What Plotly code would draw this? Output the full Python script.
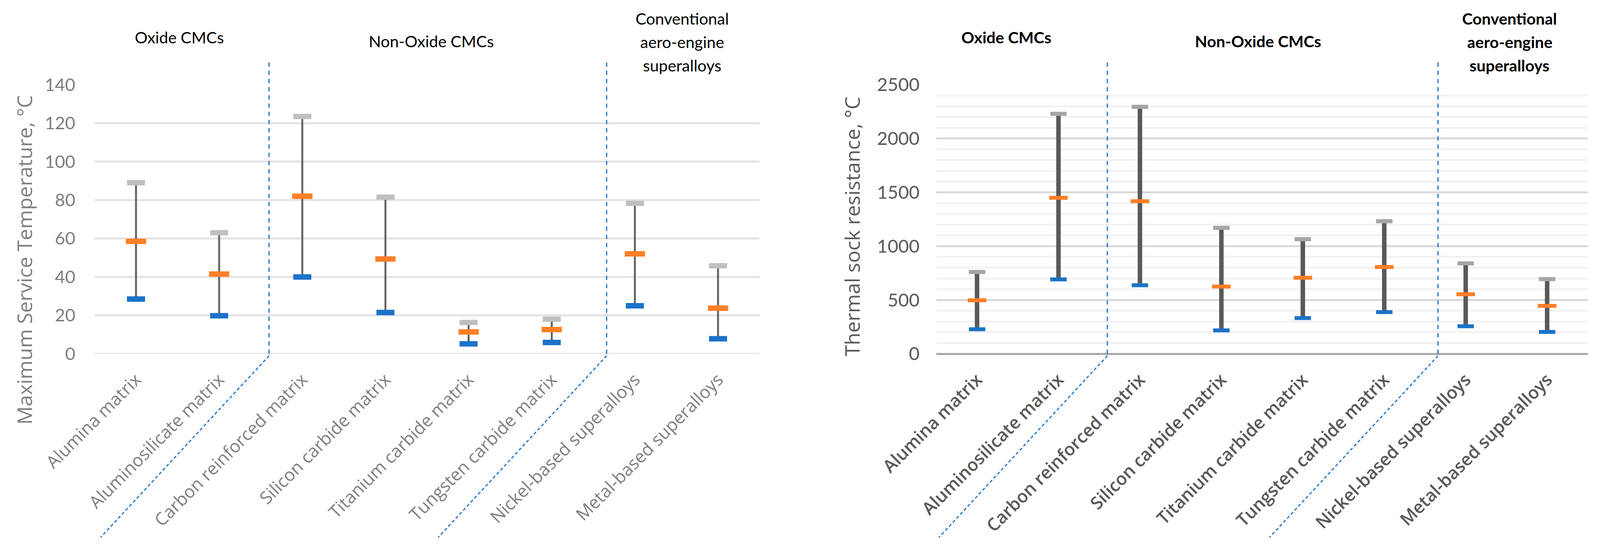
import plotly.graph_objects as go

# ---------------- data ----------------
categories = ["Alumina matrix", "Aluminosilicate matrix", "Carbon reinforced matrix",
              "Silicon carbide matrix", "Titanium carbide matrix", "Tungsten carbide matrix",
              "Nickel-based superalloys", "Metal-based superalloys"]

temp_high = [89, 63, 123.5, 81.5, 16.3, 18, 78.3, 45.8]
temp_mean = [58.5, 41.5, 82, 49.3, 11.4, 12.6, 52, 23.7]
temp_low = [28.5, 19.8, 40, 21.5, 5.2, 5.9, 25, 7.8]

shock_high = [760, 2230, 2295, 1170, 1065, 1232, 840, 694]
shock_mean = [497, 1450, 1418, 625, 707, 806, 553, 445]
shock_low = [228, 691, 637, 218, 332, 387, 256, 203]

temp_ticks = [0, 20, 40, 60, 80, 100, 120, 140]
shock_ticks = [0, 500, 1000, 1500, 2000, 2500]

group_names = ["Oxide CMCs", "Non-Oxide CMCs"]
conv_lines = ["Conventional", "aero-engine", "superalloys"]

temp_title = "Maximum Service Temperature, \u00b0C"
shock_title = "Thermal sock resistance, \u00b0C"

# ---------------- layout geometry ----------------
# the visible page is 4096 px wide with an 8 px body margin
FW, FH = 4088, 1403
SX = 4096 / 4219


def fx(px):
    return px * SX - 8


def fy(py):
    return py - 8


PLOT_TOP, PLOT_BOT = fy(217), fy(906)
ydom = [(FH - PLOT_BOT) / FH, (FH - PLOT_TOP) / FH]
xdom1 = [fx(249) / FW, fx(2003) / FW]
xdom2 = [fx(2469) / FW, fx(4187) / FW]
idx = list(range(len(categories)))

BLUE_DASH = "#1c72c6"
fig = go.Figure()


def add_stock(xaxis, yaxis, high, mean, low, stem_w, stem_c, gray, caps):
    xs, ys = [], []
    for i, (lo, hi) in enumerate(zip(low, high)):
        xs += [i, i, None]
        ys += [lo, hi, None]
    fig.add_trace(go.Scatter(x=xs, y=ys, mode="lines", xaxis=xaxis, yaxis=yaxis,
                             line=dict(color=stem_c, width=stem_w),
                             hoverinfo="skip", showlegend=False))
    for vals, col, (sz, th) in [(high, gray, caps[0]), (low, "#1b72c8", caps[2]),
                                (mean, "#ff7f27", caps[1])]:
        fig.add_trace(go.Scatter(x=idx, y=vals, mode="markers", xaxis=xaxis, yaxis=yaxis,
                                 marker=dict(symbol="line-ew", size=sz,
                                             line=dict(color=col, width=th)),
                                 showlegend=False))


add_stock("x", "y", temp_high, temp_mean, temp_low, 5, "#646464", "#bfbfbf",
          [(33, 13.5), (37, 14), (33, 14)])
add_stock("x2", "y2", shock_high, shock_mean, shock_low, 11.5, "#595959", "#a5a5a5",
          [(30, 10.5), (34, 10), (30, 10)])

# left gridlines (no line at the top tick)
for v in temp_ticks[:-1]:
    fig.add_shape(type="line", xref="x domain", yref="y", x0=0, x1=1, y0=v, y1=v,
                  line=dict(color="#e3e3e3", width=5), layer="below")

# dashed separators between the material groups
seps = [1.6, 5.66]
for xr in ["x", "x2"]:
    for s in seps:
        fig.add_shape(type="line", xref=xr, x0=s, x1=s, yref="paper",
                      ysizemode="pixel", yanchor=ydom[0], y0=0, y1=755,
                      line=dict(color=BLUE_DASH, width=3, dash="11px,10px"))
        fig.add_shape(type="line", xref=xr, xsizemode="pixel", xanchor=s, x0=0, x1=-431,
                      yref="paper", ysizemode="pixel", yanchor=ydom[0], y0=-5, y1=-470,
                      line=dict(color=BLUE_DASH, width=3, dash="8px,6px"))

cat_font_l = dict(family="Open Sans", size=45, color="#7f7f7f")
cat_font_r = dict(family="Open Sans", size=45, color="#595959", weight=600)

common_x = dict(type="linear", range=[-0.5, 7.5], tickmode="array", tickvals=idx,
                ticktext=categories, tickangle=-45, showgrid=False, zeroline=False,
                showline=False, ticks="", ticklabelstandoff=30, automargin=False)

fig.update_layout(
    width=FW, height=FH, margin=dict(l=0, r=0, t=0, b=0),
    paper_bgcolor="white", plot_bgcolor="white", showlegend=False,
    xaxis=dict(domain=xdom1, anchor="y", tickfont=cat_font_l, **common_x),
    xaxis2=dict(domain=xdom2, anchor="y2", tickfont=cat_font_r, **common_x),
    yaxis=dict(domain=ydom, anchor="x", range=[0, 140], tickmode="array",
               tickvals=temp_ticks, showgrid=False, zeroline=False, showline=False,
               tickfont=dict(family="Lato", size=45, color="#7f7f7f"),
               ticks="", ticklabelstandoff=48, automargin=False),
    yaxis2=dict(domain=ydom, anchor="x2", range=[0, 2500], tickmode="array",
                tickvals=shock_ticks, showgrid=True, gridcolor="#d9d9d9", gridwidth=5,
                minor=dict(dtick=100, showgrid=True, gridcolor="#f2f2f2", gridwidth=5),
                zeroline=True, zerolinecolor="#a6a6a6", zerolinewidth=5, showline=False,
                tickfont=dict(family="Lato", size=47, color="#595959"),
                ticks="", ticklabelstandoff=42, automargin=False),
)

annots = []
# axis titles
annots.append(dict(text=temp_title, xref="paper", yref="paper", x=fx(63) / FW,
                   y=(FH - fy(666)) / FH, textangle=-90, showarrow=False,
                   xanchor="center", yanchor="middle",
                   font=dict(family="Open Sans", size=52, color="#7f7f7f")))
annots.append(dict(text=shock_title, xref="paper", yref="paper", x=fx(2245) / FW,
                   y=(FH - fy(580)) / FH, textangle=-90, showarrow=False,
                   xanchor="center", yanchor="middle",
                   font=dict(family="Open Sans", size=52, color="#595959")))

# group labels above the plots
label_pos = {"x": [0.52, 3.55, 6.57], "x2": [0.36, 3.45, 6.54]}
for xr, bold in [("x", False), ("x2", True)]:
    f = dict(family="Lato", size=41, color="black", weight=700 if bold else 400)
    pos = label_pos[xr]
    for name, xp, yp in zip(group_names, pos[:2], [95, 105]):
        annots.append(dict(text=name, xref=xr, yref="paper", x=xp, y=(FH - fy(yp)) / FH,
                           showarrow=False, xanchor="center", yanchor="middle", font=f))
    for line, yp in zip(conv_lines, [48, 107, 167]):
        annots.append(dict(text=line, xref=xr, yref="paper", x=pos[2],
                           y=(FH - fy(yp)) / FH, showarrow=False,
                           xanchor="center", yanchor="middle", font=f))

fig.update_layout(annotations=annots)
fig.write_html("out.html")
